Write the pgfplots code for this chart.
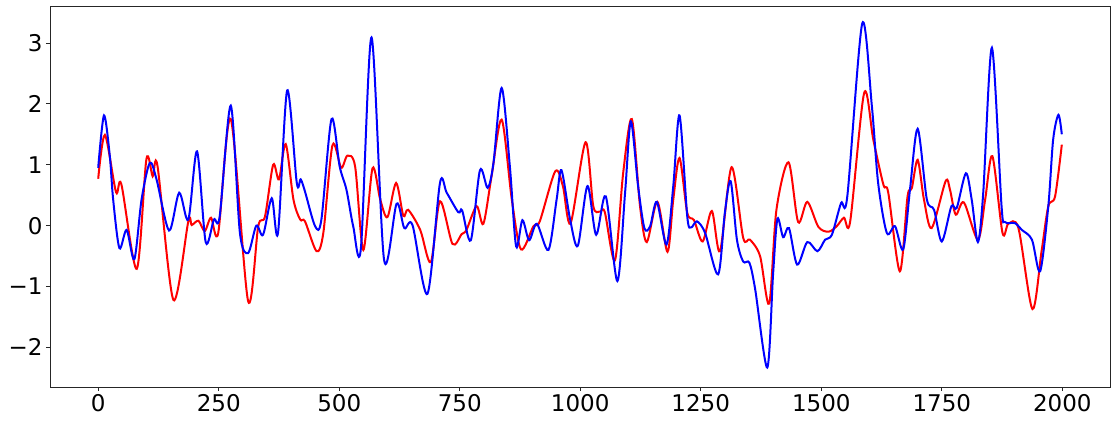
\documentclass[border=0pt]{standalone}
\usepackage{fontspec}
\setmainfont{DejaVu Sans}
\usepackage{pgfplots}
\pgfplotsset{compat=1.18}
\begin{document}
\begin{tikzpicture}
\begin{axis}[
    scale only axis,
    width=1060pt, height=381pt,
    xmin=-100, xmax=2099,
    ymin=-2.65, ymax=3.607,
    xtick={0,250,...,2000},
    xticklabels={0,250,500,750,1000,1250,1500,1750,2000},
    ytick={-2,-1,0,1,2,3},
    yticklabels={−2,−1,0,1,2,3},
    tick label style={font=\fontsize{23}{27}\selectfont},
    tick align=outside,
    major tick length=4pt,
    xtick pos=bottom, ytick pos=left,
    axis line style={black!85, line width=0.8pt},
    every tick/.style={black!85, line width=0.8pt},
]
\addplot[red, line width=2pt, smooth, tension=0.5] coordinates {
(0,0.77) (14,1.49) (37,0.55) (48,0.68) (80,-0.71) (100,1.09) (113,0.81) (123,0.98)
(156,-1.22) (187,0.07) (194,0.01) (208,0.08) (221,-0.09) (234,0.13) (249,-0.12)
(275,1.75) (311,-1.24) (332,-0.01) (346,0.15) (363,1.0) (375,0.76) (389,1.34)
(405,0.43) (419,0.10) (429,0.07) (453,-0.42) (467,-0.12) (486,1.32) (504,0.95)
(517,1.15) (533,0.97) (550,-0.40) (569,0.94) (585,0.43) (600,0.14) (618,0.70)
(633,0.16) (643,0.26) (668,-0.07) (690,-0.60) (709,0.40) (735,-0.30) (754,-0.14)
(764,-0.07) (785,0.32) (799,0.03) (816,0.81) (837,1.74) (858,0.43) (877,-0.39)
(903,-0.01) (916,0.07) (948,0.89) (964,0.65) (980,0.04) (1011,1.37) (1027,0.32)
(1041,0.23) (1051,0.22) (1072,-0.57) (1089,0.86) (1107,1.75) (1124,0.32)
(1138,-0.27) (1160,0.39) (1181,-0.43) (1193,0.43) (1206,1.11) (1222,0.21)
(1236,0.09) (1254,-0.26) (1273,0.24) (1290,-0.42) (1314,0.96) (1338,-0.20)
(1352,-0.23) (1373,-0.50) (1392,-1.28) (1407,0.26) (1432,1.04) (1452,0.06)
(1471,0.39) (1494,-0.02) (1515,-0.10) (1532,-0.01) (1547,0.13) (1560,0.07)
(1589,2.18) (1608,1.41) (1629,0.67) (1639,0.54) (1663,-0.75) (1679,0.48)
(1688,0.62) (1700,1.08) (1713,0.43) (1729,-0.04) (1758,0.73) (1767,0.59)
(1779,0.18) (1796,0.38) (1825,-0.23) (1840,0.43) (1855,1.14) (1876,-0.12)
(1888,0.03) (1909,-0.04) (1938,-1.37) (1957,-0.42) (1971,0.32) (1985,0.48)
(1999,1.33)
};
\addplot[blue, line width=2pt, smooth, tension=0.5] coordinates {
(0,0.95) (12,1.81) (24,1.15) (31,0.43) (44,-0.37) (59,-0.07) (75,-0.55) (90,0.43)
(107,1.03) (121,0.76) (147,-0.08) (168,0.54) (187,0.10) (205,1.22) (223,-0.27)
(240,0.10) (252,0.15) (275,1.97) (294,-0.12) (311,-0.45) (328,0.0) (342,-0.15)
(360,0.45) (373,-0.12) (392,2.22) (412,0.70) (420,0.76) (429,0.56) (450,-0.01)
(463,0.10) (484,1.75) (501,0.97) (515,0.59) (529,-0.01) (545,-0.37) (567,3.09)
(593,-0.56) (619,0.36) (635,-0.04) (652,0.01) (683,-1.12) (709,0.70) (723,0.54)
(747,0.22) (755,0.25) (773,-0.24) (792,0.91) (808,0.62) (820,1.03) (837,2.26)
(854,0.97) (867,-0.34) (880,0.09) (894,-0.24) (910,0.03) (934,-0.40) (951,0.43)
(961,0.91) (979,0.10) (995,-0.33) (1015,0.65) (1033,-0.15) (1053,0.48)
(1077,-0.91) (1093,0.54) (1105,1.71) (1120,0.65) (1133,-0.04) (1145,-0.01)
(1159,0.39) (1179,-0.31) (1193,0.65) (1206,1.81) (1222,0.15) (1230,-0.03)
(1242,0.07) (1259,-0.12) (1286,-0.80) (1300,0.21) (1312,0.73) (1325,-0.23)
(1338,-0.59) (1351,-0.61) (1363,-1.05) (1388,-2.33) (1400,-0.8) (1409,0.11)
(1421,-0.19) (1433,-0.04) (1450,-0.64) (1471,-0.27) (1492,-0.42) (1508,-0.23)
(1522,-0.15) (1541,0.37) (1554,0.48) (1585,3.32) (1605,1.96) (1618,0.70)
(1636,-0.12) (1653,-0.01) (1670,-0.39) (1684,0.59) (1700,1.59) (1719,0.43)
(1734,0.26) (1750,-0.26) (1770,0.32) (1781,0.29) (1800,0.86) (1812,0.43)
(1825,-0.27) (1836,0.54) (1854,2.92) (1874,0.32) (1881,0.06) (1902,0.04)
(1916,-0.07) (1937,-0.23) (1954,-0.75) (1971,0.32) (1981,1.41) (1992,1.82)
(1999,1.50)
};
\end{axis}
\path ([shift={(-50pt,-38pt)}]current axis.south west) rectangle ([shift={(7pt,6pt)}]current axis.north east);
\end{tikzpicture}
\end{document}
